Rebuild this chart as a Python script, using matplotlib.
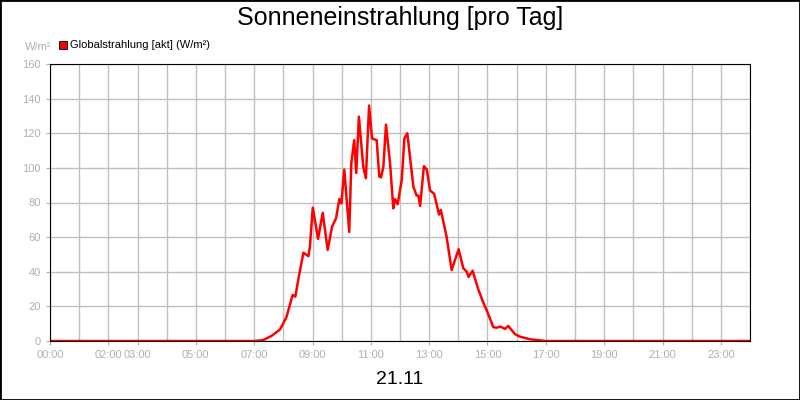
import matplotlib
matplotlib.use("Agg")
import matplotlib.pyplot as plt
from matplotlib.patches import Rectangle

plt.rcParams['font.family'] = ['Liberation Sans', 'DejaVu Sans']

# Hours of day and Globalstrahlung values (W/m²)
hours = [0.0, 7.0, 7.31, 7.6, 7.89, 8.11, 8.32, 8.41, 8.55, 8.69, 8.86, 8.91, 9.01, 9.19,
         9.35, 9.52, 9.67, 9.81, 9.92, 9.99, 10.09, 10.26, 10.33, 10.43, 10.50, 10.59,
         10.74, 10.83, 10.94, 11.04, 11.20, 11.29, 11.35, 11.43, 11.52, 11.66, 11.77,
         11.83, 11.92, 12.06, 12.15, 12.25, 12.46, 12.57, 12.63, 12.69, 12.82, 12.92,
         13.03, 13.17, 13.34, 13.40, 13.60, 13.77, 14.01, 14.17, 14.29, 14.35, 14.49,
         14.68, 14.86, 14.99, 15.20, 15.31, 15.45, 15.60, 15.71, 15.94, 16.11, 16.46,
         17.0, 24.0]
values = [0, 0, 0.5, 3, 6.7, 14, 26.6, 25.6, 39, 51, 49, 54.5, 77, 59,
          74, 52.6, 66, 71, 82, 79.5, 99, 63, 102.6, 116, 97, 129.6,
          100.7, 94, 136, 117, 116, 95, 94.5, 100.7, 125, 102.6, 76.6,
          82, 79, 93, 117, 120, 89, 84, 84, 78, 101, 99,
          87, 85, 73, 75.7, 60, 41, 53, 42, 40, 37, 40.6,
          30, 22, 17, 8, 7.7, 8.3, 7, 8.7, 4, 2.5, 1,
          0, 0]

tick_hours = [0, 2, 3, 5, 7, 9, 11, 13, 15, 17, 19, 21, 23]
tick_labels = ["00:00", "02:00", "03:00", "05:00", "07:00", "09:00", "11:00",
               "13:00", "15:00", "17:00", "19:00", "21:00", "23:00"]

fig = plt.figure(figsize=(8, 4), dpi=100)
fig.patches.append(Rectangle((0, 0), 1, 1, transform=fig.transFigure,
                             fill=False, edgecolor="black", linewidth=2))
ax = fig.add_axes([0.0625, 0.1475, 0.875, 0.6925])

ax.plot(hours, values, color="red", linewidth=1.8, label="Globalstrahlung [akt] (W/m²)")
ax.set_xlim(0, 24)
ax.set_ylim(0, 160)
ax.set_xticks(range(25), minor=True)
ax.set_xticks(tick_hours)
ax.set_xticklabels(tick_labels)
ax.set_yticks(range(0, 161, 20))
ax.grid(True, which="both", color="#c0c0c0", linewidth=1)
ax.tick_params(which="both", colors="#b0b0b0", labelsize=8, length=3)
ax.tick_params(which="minor", length=0)
ax.set_axisbelow(True)
for s in ax.spines.values():
    s.set_color("black")

fig.text(0.5, 0.955, "Sonneneinstrahlung [pro Tag]", ha="center", va="center", fontsize=18)
fig.text(0.5, 0.05, "21.11", ha="center", va="center", fontsize=14)
fig.text(0.048, 0.883, "W/m²", ha="center", va="center", fontsize=8, color="#b0b0b0")
fig.patches.append(Rectangle((0.074, 0.877), 0.01, 0.02, transform=fig.transFigure,
                             facecolor="red", edgecolor="black", linewidth=0.6))
fig.text(0.088, 0.888, "Globalstrahlung [akt] (W/m²)", ha="left", va="center", fontsize=8)

fig.savefig("out.png", dpi=100)
